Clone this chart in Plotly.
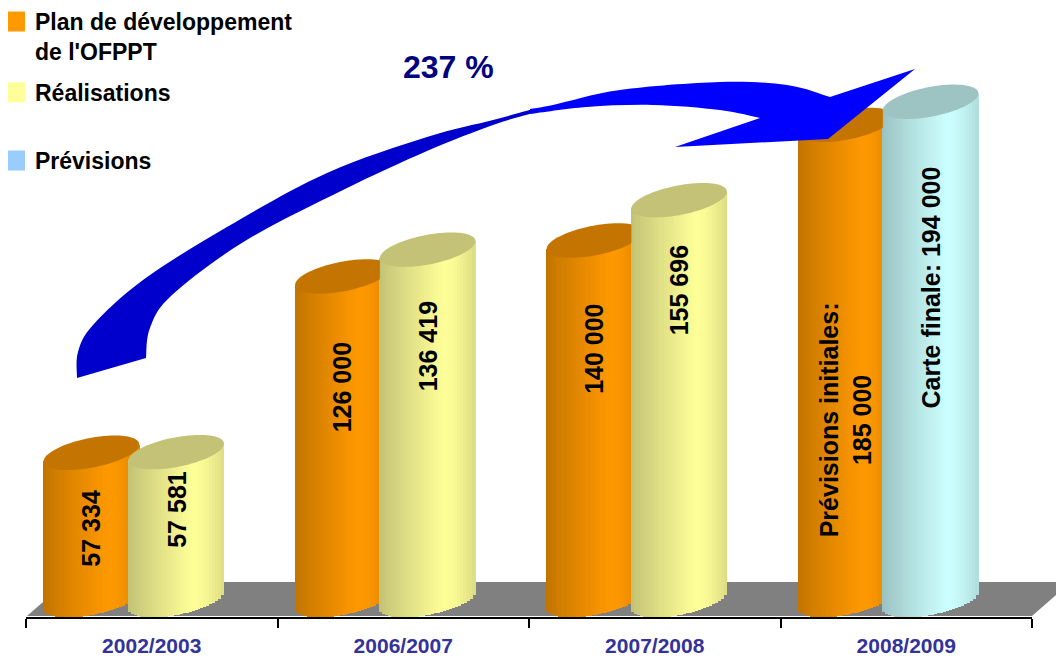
import math
import plotly.graph_objects as go

# ---------------- data ----------------
categories = ["2002/2003", "2006/2007", "2007/2008", "2008/2009"]
plan_values = [57334, 126000, 140000, 185000]
realisation_values = [57581, 136419, 155696, None]
prevision_values = [None, None, None, 194000]
series_names = ["Plan de développement<br>de l'OFPPT", "Réalisations", "Prévisions"]
plan_label_prefix = ["", "", "", "Prévisions initiales:<br>"]
realisation_label_prefix = ["", "", "", ""]
prevision_label_prefix = ["", "", "", "Carte finale: "]
growth_label = "237 %"

# ---------------- style / geometry ----------------
# the page body has an 8px margin, so the figure is 8px smaller on each side
PAGE_OFF = 8
FIG_W, FIG_H = 1064 - PAGE_OFF, 658 - PAGE_OFF
LEFT_PX, RIGHT_PX, TOP_PX, BOTTOM_PX = 26, 1032, 30, 617   # plot area, window pixels
ML = LEFT_PX - PAGE_OFF
MT = TOP_PX - PAGE_OFF
MR = 1064 - RIGHT_PX
MB = 658 - BOTTOM_PX
PLOT_W = RIGHT_PX - LEFT_PX
PLOT_H = BOTTOM_PX - TOP_PX
Y0_PX = 600                 # window pixel row of value 0 (centre of base ellipse)
PX_PER_UNIT = 0.002568
Y_MAX = (Y0_PX - TOP_PX) / PX_PER_UNIT
Y_MIN = -(BOTTOM_PX - Y0_PX) / PX_PER_UNIT
UPP = 1 / PX_PER_UNIT

CYL_W = 0.38
HALF = CYL_W / 2
ELL_B = 15.0 * UPP
ELL_K = 8.5 * UPP
N_STRIPS = 32
FONT = "Liberation Sans, Arial, sans-serif"

series = [
    dict(name=series_names[0], values=plan_values, prefix=plan_label_prefix,
         body=(255, 153, 0), top="#C47400", legend="#FF9900", left=-0.43,
         gaps=[35, 64, 61, 175], leg="legend", group="g1"),
    dict(name=series_names[1], values=realisation_values, prefix=realisation_label_prefix,
         body=(255, 255, 153), top="#C3C277", legend="#FFFF99", left=-0.093,
         gaps=[17, 50, 43, 0], leg="legend", group="g2"),
    dict(name=series_names[2], values=prevision_values, prefix=prevision_label_prefix,
         body=(204, 255, 255), top="#9DC3C3", legend="#99CCFF", left=-0.093,
         gaps=[0, 0, 0, 63], leg="legend2", group="g3"),
]


def profile(u):
    if u <= 0.35:
        return 0.76 + 0.24 * ((u + 1) / 1.35) ** 0.9
    return 1 - 0.14 * ((u - 0.35) / 0.65) ** 1.6


def shade(rgb, f):
    return "rgb(%d,%d,%d)" % tuple(min(255, int(c * f)) for c in rgb)


def fmt(v):
    return f"{v:,}".replace(",", " ")


def px2paper(x, y):
    return ((x - LEFT_PX) / PLOT_W, (BOTTOM_PX - y) / PLOT_H)


fig = go.Figure()

# cylinder bodies: vertical strips with shading
for s in series:
    idx = [i for i, v in enumerate(s["values"]) if v is not None]
    vals = [s["values"][i] for i in idx]
    centers = [i + s["left"] + HALF for i in idx]
    for j in range(N_STRIPS):
        u = -1 + (2 * j + 1) / N_STRIPS
        base_val = -ELL_B * math.sqrt(max(0.0, 1 - u * u)) + ELL_K * u
        tops = [v + ELL_K * u for v in vals]
        fig.add_trace(go.Bar(
            x=[c + u * HALF for c in centers],
            y=[t - base_val for t in tops],
            base=[base_val] * len(vals),
            width=CYL_W / N_STRIPS * 1.3,
            marker=dict(color=shade(s["body"], profile(u)), line=dict(width=0)),
            showlegend=False, hoverinfo="skip",
        ))

# legend entries
for s in series:
    fig.add_trace(go.Scatter(
        x=[None], y=[None], mode="markers", name=s["name"],
        legend=s["leg"], legendgroup=s["group"],
        marker=dict(symbol="square", size=16, color=s["legend"],
                    line=dict(width=4, color=s["legend"])),
        hoverinfo="skip",
    ))

shapes = []
# floor
floor_px = [(27, 616), (66, 582), (1071, 582), (1032, 616)]
pts = [px2paper(*p) for p in floor_px]
shapes.append(dict(type="path", xref="paper", yref="paper", layer="below",
                   path="M " + " L ".join(f"{x:.5f},{y:.5f}" for x, y in pts) + " Z",
                   fillcolor="#808080", line=dict(width=0)))

# top ellipses
for si, s in enumerate(series):
    for i, v in enumerate(s["values"]):
        if v is None:
            continue
        cx = i + s["left"] + HALF
        clamp = None
        for s2 in series[si + 1:]:
            v2 = s2["values"][i]
            if v2 is not None and v2 > v + 5000:
                clamp = i + s2["left"]
        p = []
        for t in range(73):
            a = 2 * math.pi * t / 72
            x = cx + HALF * math.cos(a)
            if clamp is not None:
                x = min(x, clamp)
            y = v + ELL_B * math.sin(a) + ELL_K * math.cos(a)
            p.append(f"{x:.5f},{y:.2f}")
        shapes.append(dict(type="path", xref="x", yref="y", layer="above",
                           path="M " + " L ".join(p) + " Z",
                           fillcolor=s["top"], line=dict(width=0)))


def smooth(points):
    cmds = []
    n = len(points)
    for k in range(n - 1):
        p0 = points[k - 1] if k > 0 else points[k]
        p1 = points[k]
        p2 = points[k + 1]
        p3 = points[k + 2] if k + 2 < n else p2
        c1 = (p1[0] + (p2[0] - p0[0]) / 6, p1[1] + (p2[1] - p0[1]) / 6)
        c2 = (p2[0] - (p3[0] - p1[0]) / 6, p2[1] - (p3[1] - p1[1]) / 6)
        a, b, c = px2paper(*c1), px2paper(*c2), px2paper(*p2)
        cmds.append(f"C {a[0]:.5f},{a[1]:.5f} {b[0]:.5f},{b[1]:.5f} {c[0]:.5f},{c[1]:.5f}")
    return " ".join(cmds)


def P(p):
    q = px2paper(*p)
    return f"{q[0]:.5f},{q[1]:.5f}"


# curved arrow (tail part)
outer = [(77, 378), (78, 352), (93, 325), (143, 280), (227, 227), (327, 173),
         (427, 137), (493, 120), (533, 109)]
inner = [(533, 113), (493, 125), (427, 151), (343, 190), (245, 241), (172, 295),
         (150, 328), (146, 358)]
path_tail = f"M {P(outer[0])} {smooth(outer)} L {P(inner[0])} {smooth(inner)} Z"
shapes.append(dict(type="path", xref="paper", yref="paper", layer="above",
                   path=path_tail, fillcolor="#0000CC", line=dict(width=0)))
# curved arrow (head part)
upper = [(530, 109), (553, 105), (620, 90), (720, 82), (787, 85), (830, 97)]
lower = [(760, 118), (720, 110), (653, 105), (587, 107), (530, 114)]
path_head = (f"M {P(upper[0])} {smooth(upper)} L {P((915, 69))} L {P((828, 139))} "
             f"L {P((675, 147))} L {P(lower[0])} {smooth(lower)} Z")
shapes.append(dict(type="path", xref="paper", yref="paper", layer="above",
                   path=path_head, fillcolor="#0000FF", line=dict(width=0)))

annotations = []
for s in series:
    for i, v in enumerate(s["values"]):
        if v is None:
            continue
        annotations.append(dict(
            x=i + s["left"] + HALF, y=v, xref="x", yref="y",
            text=s["prefix"][i] + fmt(v), showarrow=False,
            textangle=-90, xanchor="center", yanchor="top", yshift=-s["gaps"][i],
            font=dict(family=FONT, size=25, color="black", weight="bold"),
        ))
gx, gy = px2paper(448, 67)
annotations.append(dict(x=gx, y=gy, xref="paper", yref="paper", text=growth_label,
                        showarrow=False, xanchor="center", yanchor="middle",
                        font=dict(family=FONT, size=32, color="#000080", weight="bold")))

legend_font = dict(family=FONT, size=23, color="black", weight="bold")
lx, ly = px2paper(-5, 0)
_, ly2 = px2paper(-5, 139)
fig.update_layout(
    width=FIG_W, height=FIG_H,
    margin=dict(l=ML, r=MR, t=MT, b=MB, autoexpand=False),
    paper_bgcolor="white", plot_bgcolor="white",
    barmode="overlay", bargap=0,
    font=dict(family=FONT),
    shapes=shapes, annotations=annotations,
    legend=dict(x=lx, y=ly, xanchor="left", yanchor="top",
                bgcolor="rgba(0,0,0,0)", traceorder="grouped", tracegroupgap=8,
                valign="top", itemsizing="trace", font=legend_font),
    legend2=dict(x=lx, y=ly2, xanchor="left", yanchor="top",
                 bgcolor="rgba(0,0,0,0)", valign="top", itemsizing="trace",
                 font=legend_font),
    xaxis=dict(range=[-0.5, 3.5], tickmode="array", tickvals=[0, 1, 2, 3],
               ticktext=categories, ticks="outside", ticklen=9,
               tickcolor="rgba(0,0,0,0)", showgrid=False, zeroline=False,
               showline=True, linecolor="black", linewidth=1.5,
               tickfont=dict(family=FONT, size=21, color="#333399", weight="bold"),
               minor=dict(tickmode="array", tickvals=[-0.5, 0.5, 1.5, 2.5, 3.5],
                          ticks="outside", ticklen=9, tickcolor="black",
                          tickwidth=1.5, showgrid=False),
               fixedrange=True),
    yaxis=dict(range=[Y_MIN, Y_MAX], visible=False, showgrid=False,
               zeroline=False, fixedrange=True),
)

fig.write_html("out.html")
